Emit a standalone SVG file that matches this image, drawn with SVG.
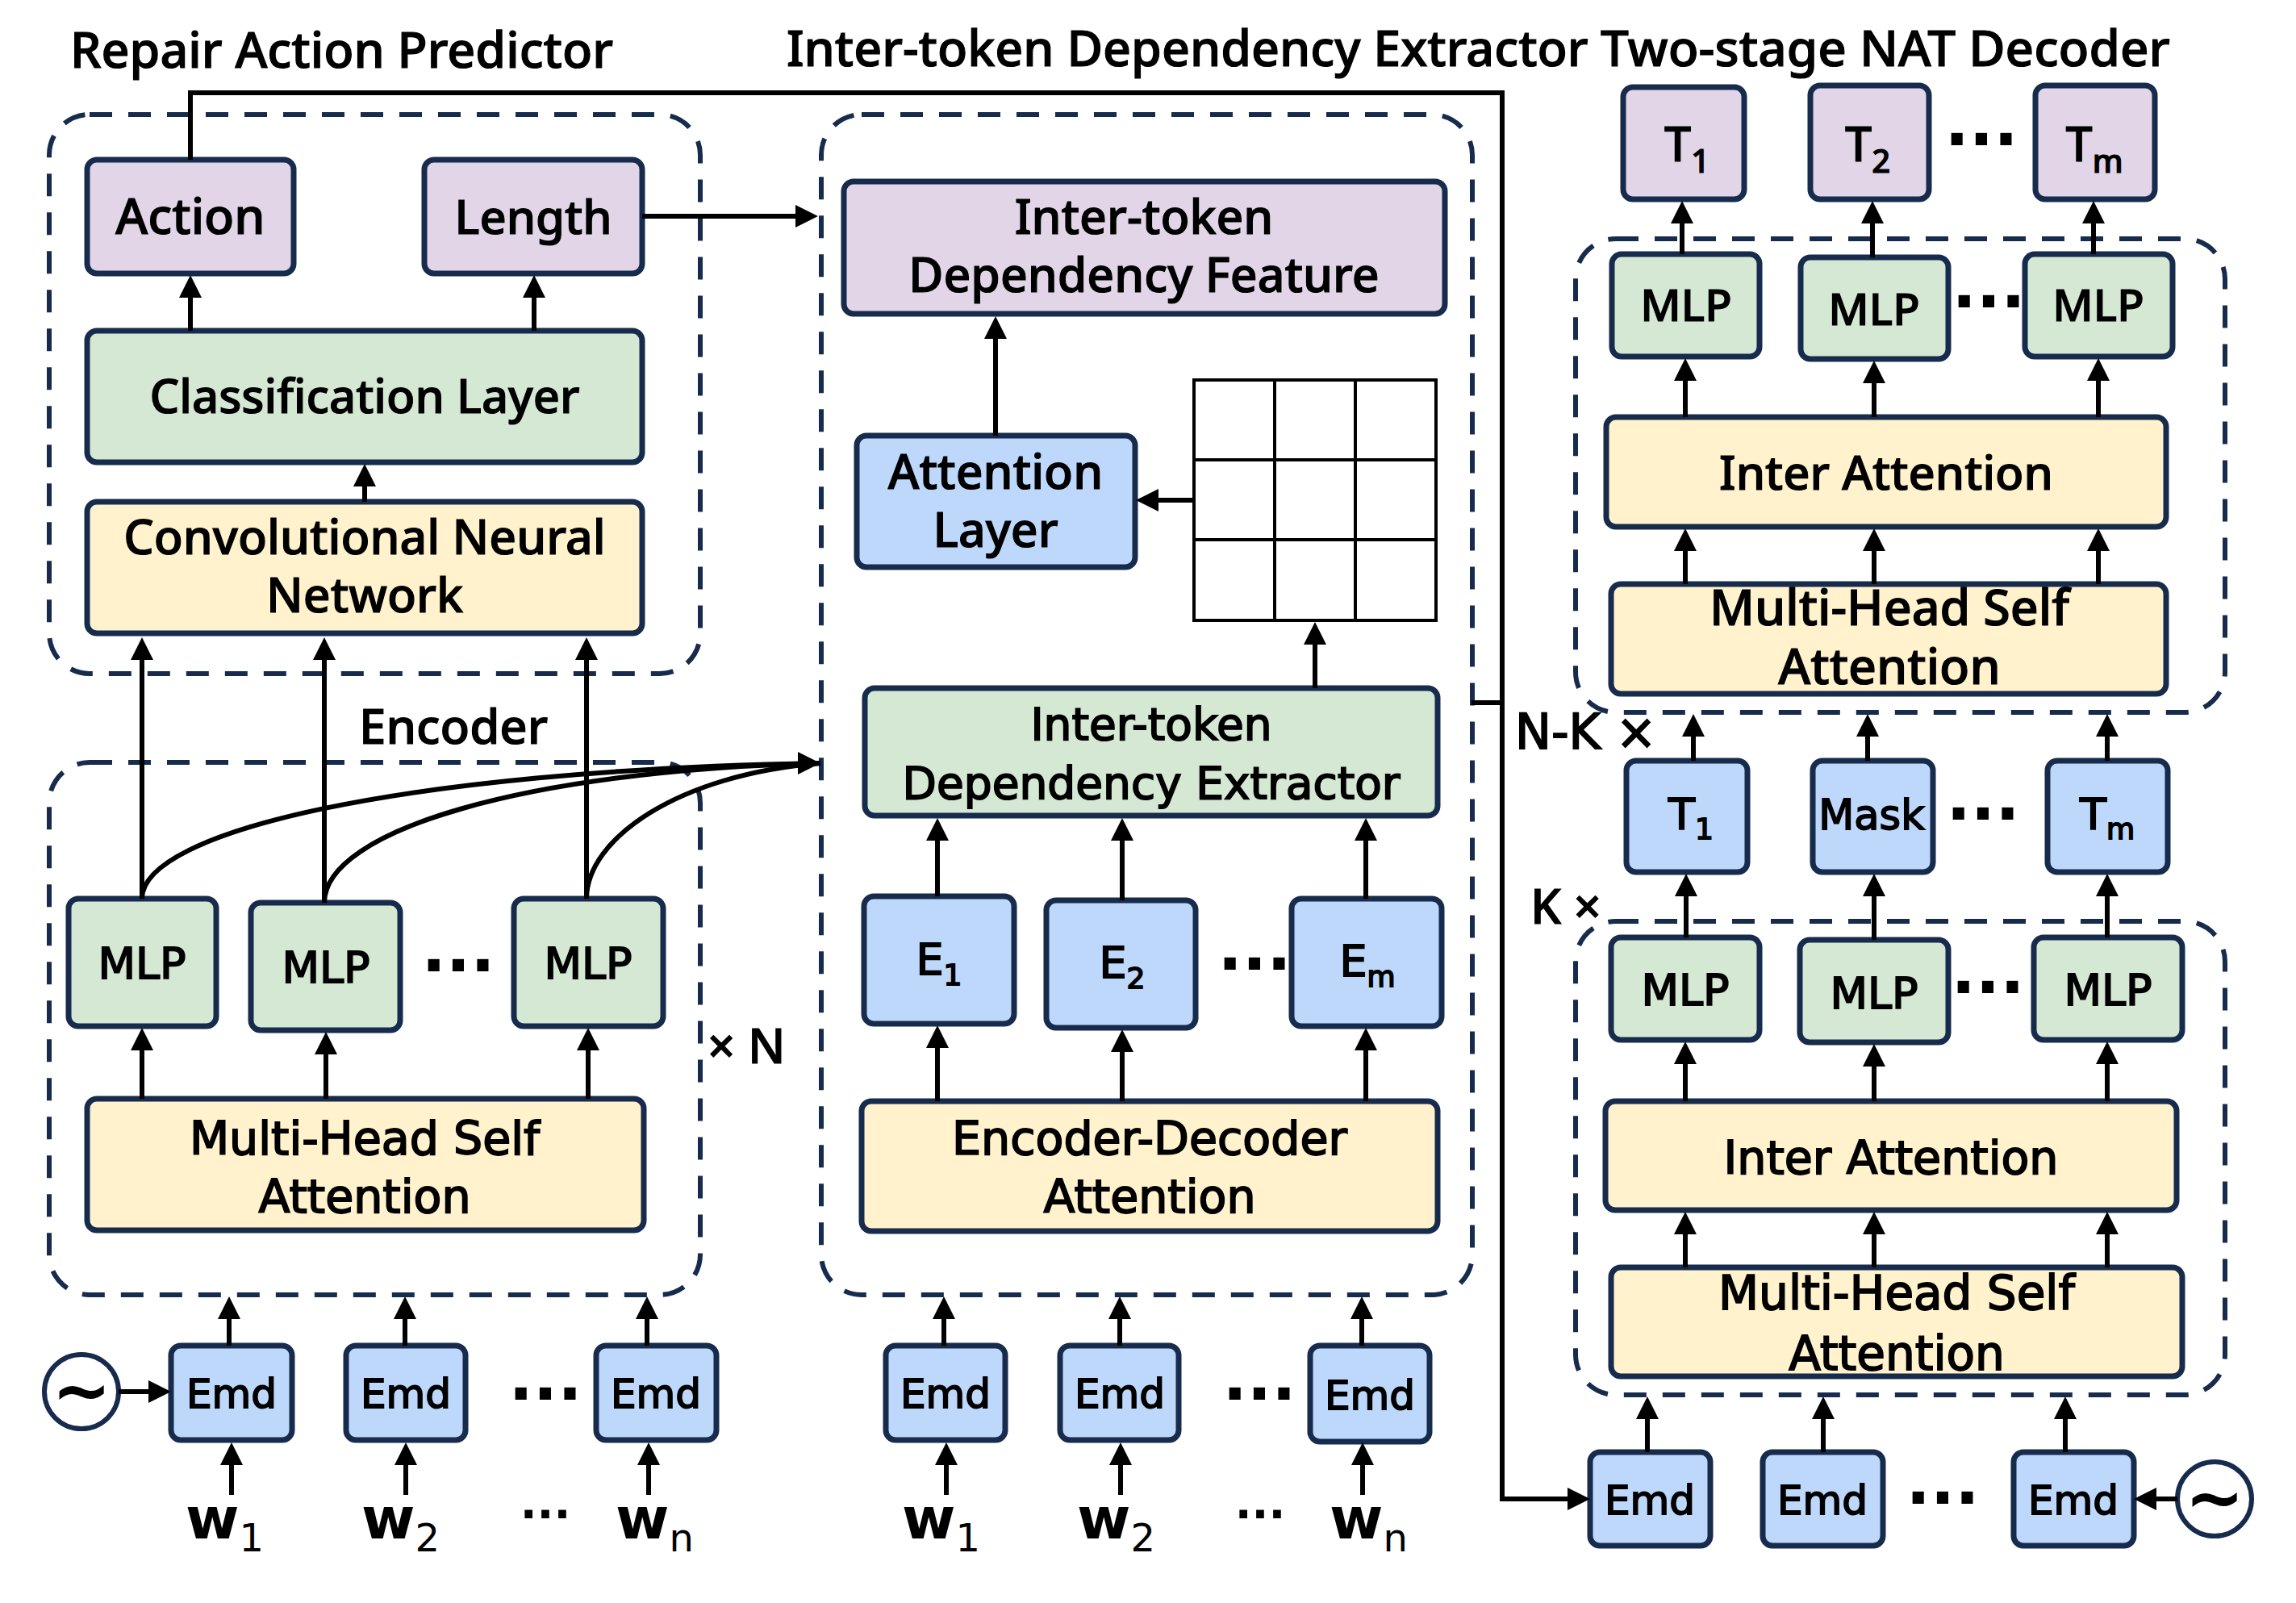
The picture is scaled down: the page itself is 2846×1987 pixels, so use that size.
<svg xmlns="http://www.w3.org/2000/svg" width="2846" height="1987" viewBox="0 0 2846 1987">
<defs>
<marker id="ah" markerUnits="userSpaceOnUse" markerWidth="28" markerHeight="28" viewBox="0 0 28 28" refX="22" refY="14" orient="auto"><path d="M0,0 L28,14 L0,28 z" fill="#000"/></marker>
<style>
.bx{stroke:#172b4d;stroke-width:7}
.p{fill:#e1d5e7}.g{fill:#d5e8d4}.y{fill:#fff2cc}.b{fill:#bed8fc}
.dash{fill:none;stroke:#172b4d;stroke-width:6;stroke-dasharray:28 20}
.ln{fill:none;stroke:#000;stroke-width:6}
.ar{marker-end:url(#ah)}
.ya{font-family:"Noto Sans","Open Sans",sans-serif;font-weight:500;fill:#000;stroke:#000;stroke-width:1.2}
.dv{font-family:"DejaVu Sans","Liberation Sans",sans-serif;fill:#000;stroke:#000;stroke-width:1.8}
.t{text-anchor:middle}
.dots{font-family:"DejaVu Sans",sans-serif;font-weight:bold;font-size:80px;text-anchor:middle}
.sdots{font-family:"DejaVu Sans",sans-serif;font-weight:bold;font-size:55px;text-anchor:middle}
.w{font-family:"DejaVu Sans",sans-serif;font-size:72px;font-weight:bold}
.sub{font-size:48px;font-weight:normal}
.grid{fill:#fff;stroke:#000;stroke-width:4}
.circ{fill:#fff;stroke:#172b4d;stroke-width:6}
.tl{font-family:"DejaVu Sans",sans-serif;font-weight:bold;font-size:88px;text-anchor:middle}
</style>
</defs>
<rect width="2846" height="1987" fill="#fff"/>

<!-- titles -->
<text class="ya" x="87" y="84" font-size="61">Repair Action Predictor</text>
<text class="ya" x="975" y="82" font-size="61">Inter-token Dependency Extractor</text>
<text class="ya" x="1984" y="82" font-size="62">Two-stage NAT Decoder</text>
<text class="ya" x="445" y="922" font-size="60">Encoder</text>
<text class="ya" x="877" y="1318" font-size="60">× N</text>
<text class="dv" x="1878" y="928" font-size="60">N-K ×</text>
<text class="ya" x="1897" y="1145" font-size="60">K ×</text>

<!-- dashed containers -->
<g id="containers">
<rect class="dash" x="61" y="142" width="807" height="693" rx="50"/>
<rect class="dash" x="61" y="945" width="807" height="660" rx="50"/>
<rect class="dash" x="1018" y="142" width="807" height="1463" rx="50"/>
<rect class="dash" x="1953" y="296" width="805" height="587" rx="50"/>
<rect class="dash" x="1953" y="1142" width="805" height="587" rx="50"/>
</g>

<!-- Repair action predictor -->
<g id="action"><rect class="bx p" x="108" y="198" width="256" height="141" rx="12"/><text class="ya t" x="236" y="290" font-size="61">Action</text></g>
<g id="length"><rect class="bx p" x="526" y="198" width="270" height="141" rx="12"/><text class="ya t" x="661" y="290" font-size="58">Length</text></g>
<g id="classification"><rect class="bx g" x="108" y="410" width="688" height="163" rx="12"/><text class="ya t" x="452" y="512" font-size="58">Classification Layer</text></g>
<g id="cnn"><rect class="bx y" x="108" y="622" width="688" height="163" rx="12"/><text class="ya t" font-size="59"><tspan x="452" y="687">Convolutional Neural</tspan><tspan x="452" y="759">Network</tspan></text></g>

<!-- Encoder -->
<g id="enc-mlp1"><rect class="bx g" x="85" y="1114" width="183" height="158" rx="12"/><text class="dv t" x="176" y="1213" font-size="54">MLP</text></g>
<g id="enc-mlp2"><rect class="bx g" x="311" y="1119" width="185" height="158" rx="12"/><text class="dv t" x="404" y="1218" font-size="54">MLP</text></g>
<g id="enc-mlp3"><rect class="bx g" x="637" y="1114" width="185" height="158" rx="12"/><text class="dv t" x="729" y="1213" font-size="54">MLP</text></g>
<text class="dots" x="568" y="1204">...</text>
<g id="enc-mhsa"><rect class="bx y" x="108" y="1362" width="690" height="163" rx="12"/><text class="dv t" font-size="57"><tspan x="452" y="1431">Multi-Head Self</tspan><tspan x="452" y="1503">Attention</tspan></text></g>
<g id="enc-emd1"><rect class="bx b" x="212" y="1668" width="150" height="117" rx="12"/><text class="dv t" x="287" y="1745" font-size="50">Emd</text></g>
<g id="enc-emd2"><rect class="bx b" x="429" y="1668" width="148" height="117" rx="12"/><text class="dv t" x="503" y="1745" font-size="50">Emd</text></g>
<g id="enc-emd3"><rect class="bx b" x="739" y="1668" width="149" height="117" rx="12"/><text class="dv t" x="813" y="1745" font-size="50">Emd</text></g>
<text class="dots" x="676" y="1735">...</text>
<g id="noise-left"><circle class="circ" cx="101" cy="1725" r="46"/><text class="tl" x="101" y="1754">~</text></g>
<g id="enc-w"><text class="w" x="230" y="1907">w<tspan class="sub" dy="16">1</tspan></text><text class="w" x="448" y="1907">w<tspan class="sub" dy="16">2</tspan></text><text class="w" x="763" y="1907">w<tspan class="sub" dy="16">n</tspan></text></g>
<text class="sdots" x="676" y="1882">...</text>

<!-- Middle -->
<g id="feature"><rect class="bx p" x="1046" y="225" width="745" height="164" rx="12"/><text class="ya t" font-size="59"><tspan x="1418" y="290">Inter-token</tspan><tspan x="1418" y="362">Dependency Feature</tspan></text></g>
<g id="attn-layer"><rect class="bx b" x="1062" y="540" width="345" height="163" rx="12"/><text class="ya t" font-size="59"><tspan x="1234" y="606">Attention</tspan><tspan x="1234" y="678">Layer</tspan></text></g>
<g id="matrix"><rect class="grid" x="1480" y="471" width="300" height="298"/><path d="M1580 471V769M1680 471V769M1480 570H1780M1480 669H1780" stroke="#000" stroke-width="4"/></g>
<g id="extractor"><rect class="bx g" x="1072" y="853" width="710" height="158" rx="12"/><text class="dv t" font-size="55"><tspan x="1427" y="917">Inter-token</tspan><tspan x="1427" y="990">Dependency Extractor</tspan></text></g>
<g id="e1"><rect class="bx b" x="1071" y="1111" width="186" height="158" rx="12"/><text class="dv t" x="1164" y="1208" font-size="54">E<tspan font-size="36" dy="13">1</tspan></text></g>
<g id="e2"><rect class="bx b" x="1297" y="1116" width="185" height="158" rx="12"/><text class="dv t" x="1391" y="1212" font-size="54">E<tspan font-size="36" dy="13">2</tspan></text></g>
<g id="em"><rect class="bx b" x="1601" y="1114" width="186" height="158" rx="12"/><text class="dv t" x="1695" y="1210" font-size="54">E<tspan font-size="36" dy="13">m</tspan></text></g>
<text class="dots" x="1555" y="1202">...</text>
<g id="encdec"><rect class="bx y" x="1068" y="1365" width="714" height="161" rx="12"/><text class="dv t" font-size="57"><tspan x="1425" y="1431">Encoder-Decoder</tspan><tspan x="1425" y="1503">Attention</tspan></text></g>
<g id="mid-emd1"><rect class="bx b" x="1098" y="1668" width="148" height="117" rx="12"/><text class="dv t" x="1172" y="1745" font-size="50">Emd</text></g>
<g id="mid-emd2"><rect class="bx b" x="1314" y="1668" width="147" height="117" rx="12"/><text class="dv t" x="1388" y="1745" font-size="50">Emd</text></g>
<g id="mid-emd3"><rect class="bx b" x="1624" y="1668" width="148" height="119" rx="12"/><text class="dv t" x="1698" y="1747" font-size="50">Emd</text></g>
<text class="dots" x="1561" y="1735">...</text>
<g id="mid-w"><text class="w" x="1118" y="1907">w<tspan class="sub" dy="16">1</tspan></text><text class="w" x="1335" y="1907">w<tspan class="sub" dy="16">2</tspan></text><text class="w" x="1648" y="1907">w<tspan class="sub" dy="16">n</tspan></text></g>
<text class="sdots" x="1562" y="1882">...</text>

<!-- Decoder top (N-K) -->
<g id="out-t1"><rect class="bx p" x="2012" y="108" width="150" height="139" rx="12"/><text class="ya t" x="2091" y="200" font-size="59">T<tspan font-size="40" dy="14">1</tspan></text></g>
<g id="out-t2"><rect class="bx p" x="2244" y="106" width="147" height="141" rx="12"/><text class="ya t" x="2315" y="200" font-size="59">T<tspan font-size="40" dy="14">2</tspan></text></g>
<g id="out-tm"><rect class="bx p" x="2523" y="106" width="148" height="141" rx="12"/><text class="ya t" x="2596" y="200" font-size="59">T<tspan font-size="40" dy="14">m</tspan></text></g>
<text class="dots" x="2456" y="180">...</text>
<g id="top-mlp1"><rect class="bx g" x="1998" y="315" width="183" height="127" rx="12"/><text class="ya t" x="2090" y="398" font-size="55">MLP</text></g>
<g id="top-mlp2"><rect class="bx g" x="2232" y="319" width="183" height="126" rx="12"/><text class="ya t" x="2323" y="403" font-size="55">MLP</text></g>
<g id="top-mlp3"><rect class="bx g" x="2510" y="315" width="183" height="127" rx="12"/><text class="ya t" x="2601" y="398" font-size="55">MLP</text></g>
<text class="dots" x="2465" y="381">...</text>
<g id="top-ia"><rect class="bx y" x="1991" y="517" width="694" height="136" rx="12"/><text class="ya t" x="2338" y="607" font-size="58">Inter Attention</text></g>
<g id="top-mhsa"><rect class="bx y" x="1997" y="724" width="688" height="136" rx="12"/><text class="ya t" font-size="61"><tspan x="2342" y="775">Multi-Head Self</tspan><tspan x="2342" y="848">Attention</tspan></text></g>

<!-- middle tokens -->
<g id="mid-t1"><rect class="bx b" x="2016" y="943" width="150" height="138" rx="12"/><text class="dv t" x="2096" y="1028" font-size="54">T<tspan font-size="36" dy="12">1</tspan></text></g>
<g id="mask"><rect class="bx b" x="2247" y="943" width="149" height="138" rx="12"/><text class="dv t" x="2320" y="1028" font-size="51">Mask</text></g>
<g id="mid-tm"><rect class="bx b" x="2538" y="943" width="149" height="138" rx="12"/><text class="dv t" x="2612" y="1028" font-size="54">T<tspan font-size="36" dy="12">m</tspan></text></g>
<text class="dots" x="2458" y="1016">...</text>

<!-- Decoder bottom (K) -->
<g id="bot-mlp1"><rect class="bx g" x="1997" y="1162" width="184" height="127" rx="12"/><text class="dv t" x="2089" y="1246" font-size="54">MLP</text></g>
<g id="bot-mlp2"><rect class="bx g" x="2231" y="1165" width="184" height="127" rx="12"/><text class="dv t" x="2323" y="1250" font-size="54">MLP</text></g>
<g id="bot-mlp3"><rect class="bx g" x="2521" y="1162" width="184" height="127" rx="12"/><text class="dv t" x="2613" y="1246" font-size="54">MLP</text></g>
<text class="dots" x="2464" y="1231">...</text>
<g id="bot-ia"><rect class="bx y" x="1990" y="1365" width="708" height="135" rx="12"/><text class="dv t" x="2344" y="1455" font-size="57">Inter Attention</text></g>
<g id="bot-mhsa"><rect class="bx y" x="1997" y="1571" width="708" height="135" rx="12"/><text class="dv t" font-size="58"><tspan x="2351" y="1623">Multi-Head Self</tspan><tspan x="2351" y="1698">Attention</tspan></text></g>
<g id="dec-emd1"><rect class="bx b" x="1971" y="1800" width="149" height="116" rx="12"/><text class="dv t" x="2045" y="1877" font-size="50">Emd</text></g>
<g id="dec-emd2"><rect class="bx b" x="2185" y="1800" width="149" height="116" rx="12"/><text class="dv t" x="2259" y="1877" font-size="50">Emd</text></g>
<g id="dec-emd3"><rect class="bx b" x="2496" y="1800" width="149" height="116" rx="12"/><text class="dv t" x="2570" y="1877" font-size="50">Emd</text></g>
<text class="dots" x="2408" y="1864">...</text>
<g id="noise-right"><circle class="circ" cx="2745" cy="1858" r="46"/><text class="tl" x="2745" y="1887">~</text></g>

<!-- connectors -->
<g id="connectors">
<path class="ln ar" d="M236 410V347"/>
<path class="ln ar" d="M662 410V347"/>
<path class="ln ar" d="M452 622V581"/>
<path class="ln ar" d="M176 1114V796"/>
<path class="ln ar" d="M402 1119V796"/>
<path class="ln ar" d="M727 1114V796"/>
<path class="ln ar" d="M176 1362V1280"/>
<path class="ln ar" d="M404 1362V1285"/>
<path class="ln ar" d="M729 1362V1280"/>
<path class="ln ar" d="M284 1668V1613"/>
<path class="ln ar" d="M502 1668V1613"/>
<path class="ln ar" d="M802 1668V1613"/>
<path class="ln ar" d="M287 1853V1794"/>
<path class="ln ar" d="M503 1853V1794"/>
<path class="ln ar" d="M804 1853V1794"/>
<path class="ln ar" d="M147 1725H206"/>
<path class="ln" d="M176 1114C176 1030 500 955 1017 946"/>
<path class="ln" d="M402 1119C402 1030 650 955 1017 946"/>
<path class="ln" d="M727 1114C727 1040 840 960 1017 946"/>
<path class="ln ar" d="M990 946H1011"/>
<path class="ln ar" d="M796 268H1008"/>
<path class="ln ar" d="M1234 540V398"/>
<path class="ln ar" d="M1480 620H1414"/>
<path class="ln ar" d="M1630 853V777"/>
<path class="ln ar" d="M1162 1111V1020"/>
<path class="ln ar" d="M1391 1116V1020"/>
<path class="ln ar" d="M1693 1114V1020"/>
<path class="ln ar" d="M1162 1365V1277"/>
<path class="ln ar" d="M1391 1365V1282"/>
<path class="ln ar" d="M1693 1365V1280"/>
<path class="ln ar" d="M1170 1668V1613"/>
<path class="ln ar" d="M1388 1668V1613"/>
<path class="ln ar" d="M1688 1668V1613"/>
<path class="ln ar" d="M1173 1853V1794"/>
<path class="ln ar" d="M1389 1853V1794"/>
<path class="ln ar" d="M1689 1853V1794"/>
<path class="ln ar" d="M236 198V115H1862V1858H1965"/>
<path class="ln" d="M1824 871H1862"/>
<path class="ln ar" d="M2085 315V255"/>
<path class="ln ar" d="M2321 319V255"/>
<path class="ln ar" d="M2595 315V255"/>
<path class="ln ar" d="M2089 517V450"/>
<path class="ln ar" d="M2323 517V453"/>
<path class="ln ar" d="M2601 517V450"/>
<path class="ln ar" d="M2089 724V661"/>
<path class="ln ar" d="M2323 724V661"/>
<path class="ln ar" d="M2601 724V661"/>
<path class="ln ar" d="M2099 943V891"/>
<path class="ln ar" d="M2315 943V891"/>
<path class="ln ar" d="M2612 943V891"/>
<path class="ln ar" d="M2090 1162V1089"/>
<path class="ln ar" d="M2323 1165V1089"/>
<path class="ln ar" d="M2612 1162V1089"/>
<path class="ln ar" d="M2089 1365V1297"/>
<path class="ln ar" d="M2323 1365V1300"/>
<path class="ln ar" d="M2612 1365V1297"/>
<path class="ln ar" d="M2089 1571V1508"/>
<path class="ln ar" d="M2323 1571V1508"/>
<path class="ln ar" d="M2612 1571V1508"/>
<path class="ln ar" d="M2042 1800V1737"/>
<path class="ln ar" d="M2260 1800V1737"/>
<path class="ln ar" d="M2560 1800V1737"/>
<path class="ln ar" d="M2699 1858H2651"/>
</g>
</svg>
